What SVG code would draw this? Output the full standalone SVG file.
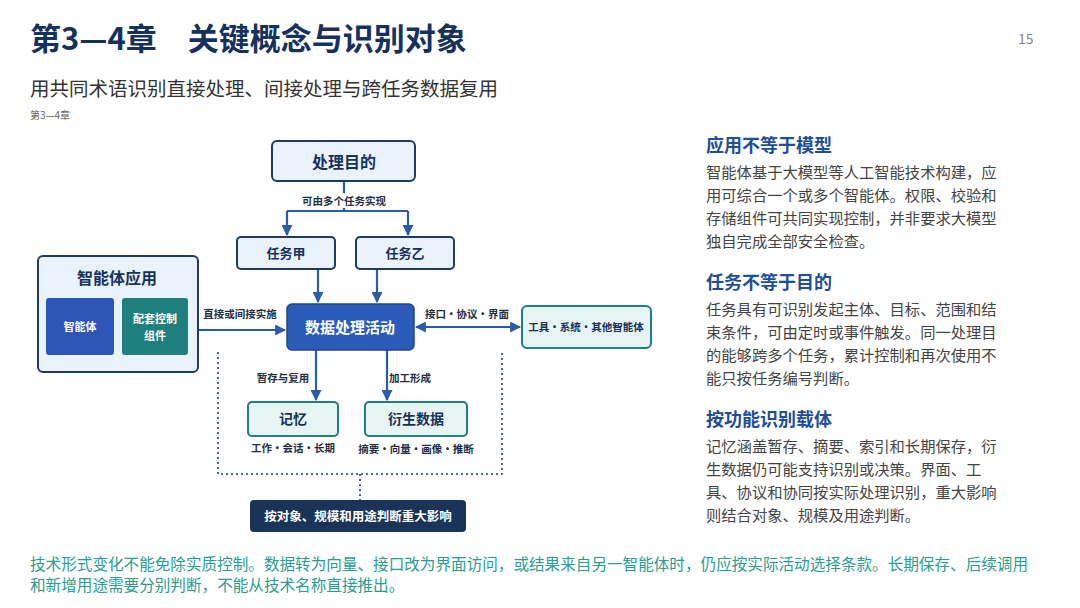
<svg xmlns="http://www.w3.org/2000/svg" width="1080" height="608" viewBox="0 0 1080 608">
<defs>
<marker id="ar" viewBox="0 0 10 10" refX="9" refY="5" markerWidth="5" markerHeight="5" orient="auto-start-reverse"><path d="M0,0L10,5L0,10z" fill="#2a5ca8"/></marker>
<style>
text{font-family:"Noto Sans CJK SC","Liberation Sans",sans-serif}
.ln{stroke:#2a5ca8;stroke-width:2.2;fill:none}
.dot{stroke:#1f3b60;stroke-width:1.6;stroke-dasharray:2 3;fill:none}
.lb{font-size:10.5px;font-weight:bold;fill:#1f2f45;text-anchor:middle}
.lt{fill:#eaf2fb;stroke:#1f3b60;stroke-width:2}
.tl{fill:#e6f4f3;stroke:#1f7f7c;stroke-width:2}
.h{font-size:18px;font-weight:bold;fill:#1f4e9a}
.b{font-size:15.3px;fill:#444}
.ft{font-size:15.6px;fill:#2a9d8f}
</style>
</defs>
<rect width="1080" height="608" fill="#fff"/>
<text x="30" y="50" font-size="31" font-weight="bold" fill="#16325c">第3—4章　关键概念与识别对象</text>
<text x="1018" y="44" font-size="14" fill="#888" font-family="Liberation Sans,sans-serif">15</text>
<text x="30" y="96" font-size="19.5" fill="#333">用共同术语识别直接处理、间接处理与跨任务数据复用</text>
<text x="30" y="119" font-size="10" fill="#666">第3—4章</text>

<g id="connectors">
<path class="ln" d="M344,181V211M287,211H408"/>
<path class="ln" d="M287,211V235" marker-end="url(#ar)"/>
<path class="ln" d="M408,211V235" marker-end="url(#ar)"/>
<path class="ln" d="M318,269V302" marker-end="url(#ar)"/>
<path class="ln" d="M377,269V302" marker-end="url(#ar)"/>
<path class="ln" d="M198,330H285" marker-end="url(#ar)"/>
<path class="ln" d="M416,327H520" marker-start="url(#ar)" marker-end="url(#ar)"/>
<path class="ln" d="M316,350V400" marker-end="url(#ar)"/>
<path class="ln" d="M387,350V400" marker-end="url(#ar)"/>
<path class="dot" d="M218,352V474H502V352M360,474V500"/>
<rect x="312" y="193" width="64" height="15" fill="#fff"/>
<text class="lb" x="344" y="205">可由多个任务实现</text>
<text class="lb" x="240" y="318">直接或间接实施</text>
<text class="lb" x="467" y="318">接口・协议・界面</text>
<text class="lb" x="283" y="382">暂存与复用</text>
<text class="lb" x="410" y="382">加工形成</text>
</g>

<g id="purpose"><rect class="lt" x="272" y="141" width="143" height="40" rx="5"/><text x="344" y="168" font-size="16" font-weight="bold" fill="#16325c" text-anchor="middle">处理目的</text></g>
<g id="taskA"><rect class="lt" x="237" y="237" width="98" height="32" rx="4" stroke="#2a5ca8"/><text x="286" y="258" font-size="13" font-weight="bold" fill="#16325c" text-anchor="middle">任务甲</text></g>
<g id="taskB"><rect class="lt" x="356" y="237" width="98" height="32" rx="4" stroke="#2a5ca8"/><text x="405" y="258" font-size="13" font-weight="bold" fill="#16325c" text-anchor="middle">任务乙</text></g>
<g id="activity"><rect x="287" y="304" width="127" height="46" rx="5" fill="#2b5cb8" stroke="#1f4590" stroke-width="1.5"/><text x="350" y="333" font-size="15" font-weight="bold" fill="#fff" text-anchor="middle">数据处理活动</text></g>
<g id="app">
<rect class="lt" x="38" y="256" width="160" height="116" rx="5"/>
<text x="117" y="284" font-size="16" font-weight="bold" fill="#16325c" text-anchor="middle">智能体应用</text>
<rect x="46" y="298" width="68" height="57" rx="3" fill="#2e56b8"/>
<text x="80" y="331" font-size="11" font-weight="bold" fill="#fff" text-anchor="middle">智能体</text>
<rect x="122" y="298" width="66" height="57" rx="3" fill="#1f7f7c"/>
<text x="155" y="323" font-size="11" font-weight="bold" fill="#fff" text-anchor="middle">配套控制</text>
<text x="155" y="340" font-size="11" font-weight="bold" fill="#fff" text-anchor="middle">组件</text>
</g>
<g id="tools"><rect class="tl" x="522" y="306" width="129" height="42" rx="5" fill="#f2f9f9"/><text x="586" y="331" font-size="10.5" font-weight="bold" fill="#16325c" text-anchor="middle">工具・系统・其他智能体</text></g>
<g id="memory"><rect class="tl" x="248" y="402" width="90" height="34" rx="4"/><text x="293" y="424" font-size="14" font-weight="bold" fill="#16325c" text-anchor="middle">记忆</text><text class="lb" x="293" y="452" font-weight="normal">工作・会话・长期</text></g>
<g id="derived"><rect class="tl" x="365" y="402" width="102" height="34" rx="4"/><text x="416" y="424" font-size="14" font-weight="bold" fill="#16325c" text-anchor="middle">衍生数据</text><text class="lb" x="416" y="453" font-weight="normal">摘要・向量・画像・推断</text></g>
<g id="impact"><rect x="250" y="500" width="216" height="32" rx="4" fill="#1a3358"/><text x="358" y="521" font-size="12.5" font-weight="bold" fill="#fff" text-anchor="middle">按对象、规模和用途判断重大影响</text></g>

<g id="notes">
<text class="h" x="706" y="152">应用不等于模型</text>
<text class="b" x="706" y="178">智能体基于大模型等人工智能技术构建，应</text>
<text class="b" x="706" y="201">用可综合一个或多个智能体。权限、校验和</text>
<text class="b" x="706" y="224">存储组件可共同实现控制，并非要求大模型</text>
<text class="b" x="706" y="247">独自完成全部安全检查。</text>
<text class="h" x="706" y="289">任务不等于目的</text>
<text class="b" x="706" y="315">任务具有可识别发起主体、目标、范围和结</text>
<text class="b" x="706" y="338">束条件，可由定时或事件触发。同一处理目</text>
<text class="b" x="706" y="361">的能够跨多个任务，累计控制和再次使用不</text>
<text class="b" x="706" y="384">能只按任务编号判断。</text>
<text class="h" x="706" y="426">按功能识别载体</text>
<text class="b" x="706" y="452">记忆涵盖暂存、摘要、索引和长期保存，衍</text>
<text class="b" x="706" y="475">生数据仍可能支持识别或决策。界面、工</text>
<text class="b" x="706" y="498">具、协议和协同按实际处理识别，重大影响</text>
<text class="b" x="706" y="521">则结合对象、规模及用途判断。</text>
</g>
<text class="ft" x="30" y="570">技术形式变化不能免除实质控制。数据转为向量、接口改为界面访问，或结果来自另一智能体时，仍应按实际活动选择条款。长期保存、后续调用</text>
<text class="ft" x="30" y="591">和新增用途需要分别判断，不能从技术名称直接推出。</text>
</svg>
